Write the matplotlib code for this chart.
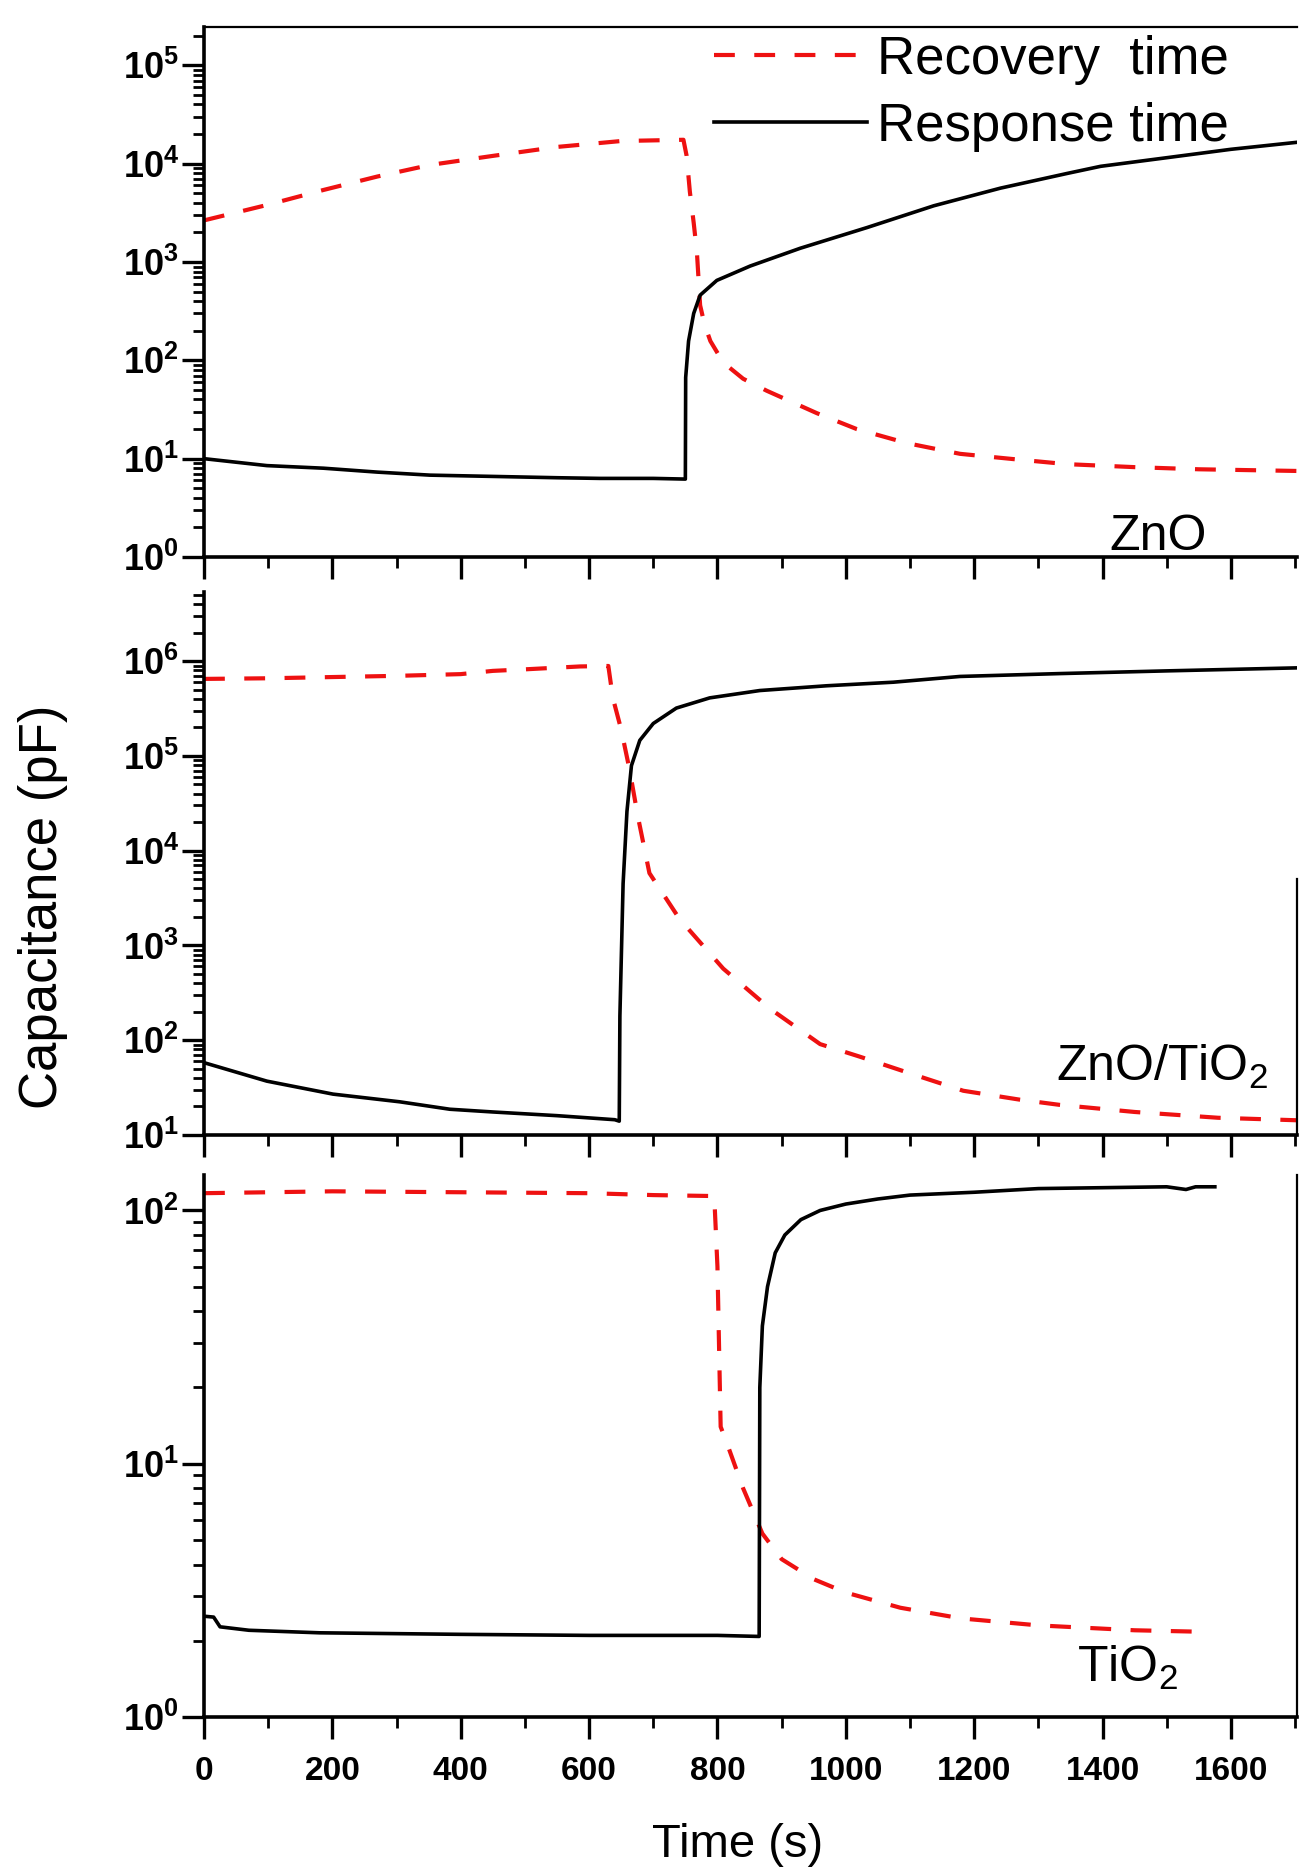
import math
import matplotlib
matplotlib.use("Agg")
import matplotlib.pyplot as plt
from matplotlib.ticker import FixedLocator, MultipleLocator, LogLocator, NullFormatter, FuncFormatter

plt.rcParams['font.family'] = ['Liberation Sans', 'DejaVu Sans']
plt.rcParams['mathtext.fontset'] = 'custom'
plt.rcParams['mathtext.rm'] = 'Liberation Sans'
plt.rcParams['mathtext.it'] = 'Liberation Sans:italic'
plt.rcParams['mathtext.bf'] = 'Liberation Sans:bold'
plt.rcParams['lines.scale_dashes'] = False

# ---------------- data ----------------
zno_rec_t = [0, 98, 186, 270, 352, 450, 550, 650, 747, 752, 757, 763, 768, 773, 780, 789, 809, 840, 877, 955, 1017, 1095, 1178, 1261, 1344, 1450, 1550, 1703]
zno_rec_c = [2650, 3800, 5400, 7400, 9700, 12000, 14800, 17000, 17500, 12000, 5200, 2500, 1260, 363, 230, 157, 95, 65, 49, 29, 20, 14.4, 11.2, 9.9, 8.8, 8.2, 7.8, 7.5]
zno_resp_t = [0, 98, 186, 270, 352, 450, 550, 617, 700, 750, 750.5, 755, 763, 773, 799, 851, 929, 1033, 1137, 1241, 1345, 1397, 1500, 1600, 1703]
zno_resp_c = [10, 8.5, 8.0, 7.3, 6.8, 6.6, 6.4, 6.3, 6.3, 6.2, 67, 157, 300, 460, 650, 910, 1380, 2240, 3730, 5640, 7960, 9400, 11500, 14000, 16500]

zt_rec_t = [0, 100, 200, 300, 400, 450, 500, 586, 630, 637, 650, 663, 676, 694, 741, 809, 882, 960, 1022, 1105, 1183, 1271, 1333, 1450, 1580, 1703]
zt_rec_c = [6.5e5, 6.6e5, 6.8e5, 7.0e5, 7.3e5, 7.9e5, 8.2e5, 8.8e5, 8.9e5, 4.1e5, 1.9e5, 7.2e4, 2.3e4, 5.8e3, 1.9e3, 570, 215, 91, 67, 43.6, 29.3, 23.6, 20.8, 17.5, 15.2, 14.3]
zt_resp_t = [0, 98, 201, 305, 383, 450, 550, 640, 647, 648, 653, 659, 666, 679, 700, 736, 788, 866, 970, 1074, 1178, 1334, 1500, 1703]
zt_resp_c = [58, 37, 27, 22.4, 18.7, 17.5, 16, 14.5, 14, 180, 4500, 2.6e4, 7.9e4, 1.46e5, 2.2e5, 3.2e5, 4.1e5, 4.9e5, 5.5e5, 6.0e5, 6.9e5, 7.4e5, 7.9e5, 8.5e5]

ti_rec_t = [0, 200, 400, 600, 700, 795, 800, 805, 815, 840, 870, 900, 950, 1000, 1085, 1180, 1300, 1450, 1556]
ti_rec_c = [117, 119, 118, 117, 115, 114, 60, 14, 12, 8, 5.3, 4.2, 3.5, 3.1, 2.7, 2.45, 2.3, 2.2, 2.17]
ti_resp_t = [0, 15, 25, 70, 180, 400, 600, 800, 865, 866, 870, 878, 890, 905, 930, 960, 1000, 1050, 1100, 1200, 1300, 1400, 1500, 1530, 1545, 1575]
ti_resp_c = [2.5, 2.48, 2.27, 2.2, 2.15, 2.12, 2.1, 2.1, 2.08, 20, 35, 50, 68, 80, 92, 100, 106, 111, 115, 118, 122, 123, 124, 121, 124, 124]

panel_labels = ["ZnO", r"ZnO/TiO$_{2}$", r"TiO$_{2}$"]
ylims = [(1, 10**5.39), (10, 10**6.73), (1, 10**2.14)]
xticks_major = [0, 200, 400, 600, 800, 1000, 1200, 1400, 1600]

RED = '#ee1111'
W, H = 1299, 1870
fig = plt.figure(figsize=(W / 100, H / 100), dpi=100)

def frac(x0, y_top, x1, y_bot):
    return [x0 / W, 1 - y_bot / H, (x1 - x0) / W, (y_bot - y_top) / H]

axes = [fig.add_axes(frac(204, 27, 1297, 557)),
        fig.add_axes(frac(204, 592, 1297, 1135)),
        fig.add_axes(frac(204, 1175, 1297, 1717))]

data = [(zno_rec_t, zno_rec_c, zno_resp_t, zno_resp_c),
        (zt_rec_t, zt_rec_c, zt_resp_t, zt_resp_c),
        (ti_rec_t, ti_rec_c, ti_resp_t, ti_resp_c)]

label_pos = [(0.873, 0.014), (0.876, 0.10), (0.845, 0.065)]

def ylab(v, p):
    return r'$\mathbf{10^{%d}}$' % int(round(math.log10(v)))

for i, ax in enumerate(axes):
    rt, rc, st, sc = data[i]
    ax.plot(rt, rc, color=RED, lw=3.0, dashes=(15, 14), label='Recovery  time')
    ax.plot(st, sc, color='black', lw=2.6, label='Response time')
    ax.set_yscale('log')
    ax.set_xlim(0, 1703)
    ax.set_ylim(*ylims[i])
    lo = int(round(math.log10(ylims[i][0])))
    hi = int(math.floor(math.log10(ylims[i][1])))
    ax.yaxis.set_major_locator(FixedLocator([10.0 ** k for k in range(lo, hi + 1)]))
    ax.yaxis.set_major_formatter(FuncFormatter(ylab))
    ax.yaxis.set_minor_locator(LogLocator(base=10, subs=range(2, 10), numticks=50))
    ax.yaxis.set_minor_formatter(NullFormatter())
    ax.xaxis.set_major_locator(FixedLocator(xticks_major))
    ax.xaxis.set_minor_locator(MultipleLocator(100))
    ax.tick_params(axis='both', which='major', direction='out', length=16, width=2.4, labelsize=24)
    ax.tick_params(axis='both', which='minor', direction='out', length=8, width=2.0)
    ax.tick_params(axis='y', which='major', pad=2, labelsize=26)
    ax.tick_params(axis='x', which='major', pad=12)
    for lab in ax.get_xticklabels() + ax.get_yticklabels():
        lab.set_fontweight('bold')
    for s in ax.spines.values():
        s.set_linewidth(2.6)
    ax.spines['top'].set_visible(i == 0)
    ax.spines['top'].set_linewidth(1.6)
    if i == 0:
        ax.spines['right'].set_visible(False)
    elif i == 1:
        ax.spines['right'].set_bounds(10, 10 ** 3.7)
        ax.spines['right'].set_linewidth(1.6)
    else:
        ax.spines['right'].set_linewidth(1.6)
    if i < 2:
        ax.tick_params(axis='x', labelbottom=False)
    ax.text(label_pos[i][0], label_pos[i][1], panel_labels[i], transform=ax.transAxes,
            ha='center', va='baseline', fontsize=36)

axes[0].legend(loc='upper right', bbox_to_anchor=(0.938, 0.985), frameon=False,
               fontsize=38, handlelength=2.9, handletextpad=0.2, labelspacing=0.32,
               borderpad=0, borderaxespad=0)

fig.text(43 / W, 1 - 907 / H, 'Capacitance (pF)', rotation=90, ha='center', va='center', fontsize=38)
fig.text(738 / W, 1 - 1845 / H, 'Time (s)', ha='center', va='center', fontsize=34)

fig.savefig('out.png', dpi=100)
